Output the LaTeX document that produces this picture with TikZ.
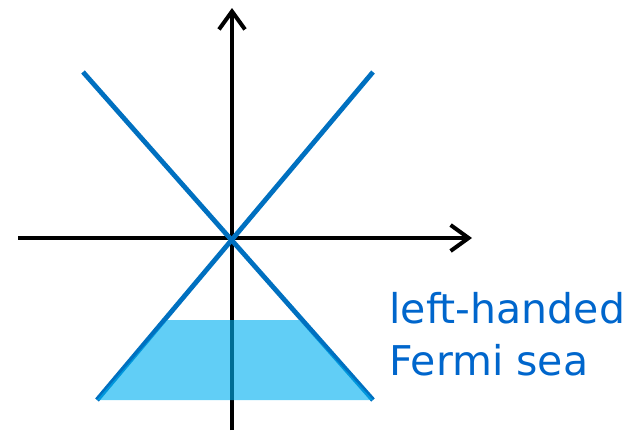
\documentclass[tikz,border=0pt]{standalone}
\usepackage{fontspec}
\setmainfont{DejaVu Sans}
\usetikzlibrary{arrows.meta}
\definecolor{bandblue}{HTML}{0070C0}
\definecolor{seablue}{HTML}{00B0F0}
\definecolor{labelblue}{HTML}{0066CC}
\begin{document}
\begin{tikzpicture}[x=1pt, y=-1pt,
  axis/.style={line width=3.6pt, -{Straight Barb[length=18pt, width=26pt, line width=4pt]}},
  band/.style={line width=4.8pt, bandblue}]
  \useasboundingbox (0,0) rectangle (631,432);
  % axes
  \coordinate (xl) at (18,238);
  \coordinate (xr) at (472,238);
  \coordinate (yb) at (232,430);
  \coordinate (yt) at (232,8);
  \draw[axis] (xl) -- (xr);
  \draw[axis] (yb) -- (yt);

  % dispersion lines
  \coordinate (ul) at (83,72);
  \coordinate (ur) at (373,72);
  \coordinate (dl) at (97,400);
  \coordinate (dr) at (373,400);
  \draw[band] (ul) -- (dr);
  \draw[band] (ur) -- (dl);

  % filled Fermi sea
  \coordinate (sl) at (167,320);
  \coordinate (sr) at (299,320);
  \fill[seablue, opacity=0.62] (dl) -- (sl) -- (sr) -- (dr) -- cycle;

  \node[anchor=base west, align=left, text=labelblue,
        font=\fontsize{41}{52}\selectfont] (sea) at (386,375)
        {left-handed\\Fermi sea};
\end{tikzpicture}
\end{document}
